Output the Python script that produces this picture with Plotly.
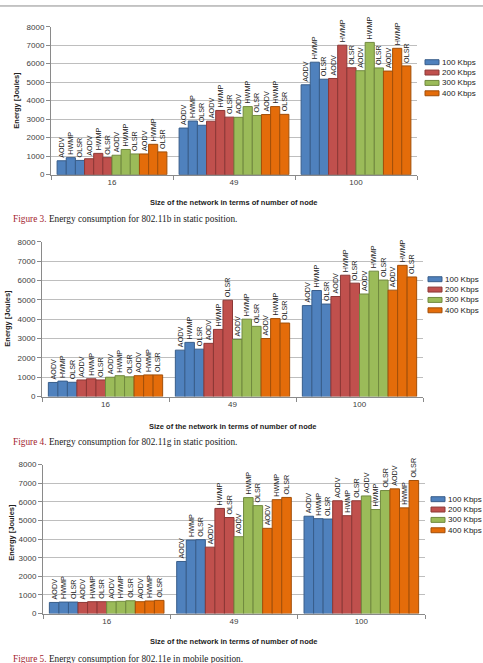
import plotly.graph_objects as go

# ---------------- data ----------------
nodes = ["16", "49", "100"]
protocols = ["AODV", "HWMP", "OLSR"]
rates = ["100 Kbps", "200 Kbps", "300 Kbps", "400 Kbps"]

# Figure 3: 802.11b static  -> rows = nodes (16, 49, 100), cols = protocols (AODV, HWMP, OLSR)
b_static_100 = [[750, 920, 770], [2520, 2900, 2670], [4860, 6080, 5160]]
b_static_200 = [[860, 1150, 920], [2890, 3470, 3110], [5200, 7000, 5780]]
b_static_300 = [[1050, 1360, 1120], [3100, 3680, 3200], [5620, 7150, 5770]]
b_static_400 = [[1120, 1640, 1230], [3250, 3680, 3260], [5600, 6830, 5880]]

# Figure 4: 802.11g static
g_static_100 = [[730, 800, 740], [2400, 2800, 2450], [4700, 5480, 4780]]
g_static_200 = [[860, 920, 860], [2750, 3470, 4980], [5170, 6270, 5860]]
g_static_300 = [[1000, 1080, 1020], [2950, 4000, 3630], [5300, 6480, 6020]]
g_static_400 = [[1080, 1120, 1120], [3000, 4030, 3800], [5500, 6780, 6180]]

# Figure 5: 802.11e mobile
e_mobile_100 = [[600, 620, 620], [2800, 3950, 3970], [5230, 5100, 5080]]
e_mobile_200 = [[600, 640, 640], [3570, 5650, 5160], [6060, 5260, 6060]]
e_mobile_300 = [[640, 660, 690], [4130, 6230, 5800], [6320, 5590, 6610]]
e_mobile_400 = [[640, 680, 710], [4580, 6120, 6240], [6700, 5680, 7150]]

charts = [
    [b_static_100, b_static_200, b_static_300, b_static_400],
    [g_static_100, g_static_200, g_static_300, g_static_400],
    [e_mobile_100, e_mobile_200, e_mobile_300, e_mobile_400],
]

captions_num = ["Figure 3.", "Figure 4.", "Figure 5."]
captions_txt = [
    "Energy consumption for 802.11b in static position.",
    "Energy consumption for 802.11g in static position.",
    "Energy consumption for 802.11e in mobile position.",
]
y_ticks = [0, 1000, 2000, 3000, 4000, 5000, 6000, 7000, 8000]
x_title = "Size of the network in terms of number of node"
y_title = "Energy [Joules]"

# ---------------- style ----------------
W, H = 483, 663
fill_colors = ["#4F81BD", "#C0504D", "#9BBB59", "#E46C0A"]
line_colors = ["#385D8A", "#8C3836", "#71893F", "#A24F09"]

# pixel layout of each chart: (x_left, x_right, y_top(8000), y_bottom(0))
boxes = [(51, 417, 23, 173), (42, 423, 241, 398), (43, 425, 467, 618)]
legend_x = [425, 428, 431]          # left edge of legend swatch
legend_y0 = [59, 279, 502]          # centre of first legend row
legend_dy = 10.5
ytitle_pos = [(17, 98), (8, 319), (12, 536)]
xtitle_y = [201, 428, 646]
caption_y = [218, 444, 664]

def px(x):
    return x / W

def py(y):
    return 1 - y / H

fig = go.Figure()
font_lab = "Liberation Sans, Arial, sans-serif"

for ci, chart in enumerate(charts):
    sfx = "" if ci == 0 else str(ci + 1)
    for ri, rate_vals in enumerate(chart):
        for pi, prot in enumerate(protocols):
            yv = [rate_vals[n][pi] for n in range(len(nodes))]
            fig.add_trace(go.Bar(
                x=nodes, y=yv,
                name=rates[ri],
                showlegend=False,
                xaxis="x" + sfx, yaxis="y" + sfx,
                marker=dict(color=fill_colors[ri],
                            line=dict(color=line_colors[ri], width=1)),
                text=[prot] * len(nodes),
                textposition="outside",
                textangle=-90,
                constraintext="none",
                cliponaxis=False,
                textfont=dict(size=7.2, color="#222222", family=font_lab),
                hoverinfo="skip",
            ))

layout = dict(
    width=W, height=H,
    margin=dict(l=0, r=0, t=0, b=0),
    paper_bgcolor="white", plot_bgcolor="white",
    barmode="group", bargap=0.1, bargroupgap=0,
    showlegend=False,
    font=dict(family=font_lab, color="#333333"),
)

annotations = []
shapes = [dict(type="line", xref="paper", yref="paper",
               x0=0, x1=1, y0=py(2), y1=py(2),
               line=dict(color="#8C8C8C", width=1))]

for ci in range(3):
    sfx = "" if ci == 0 else str(ci + 1)
    xl, xr, yt, yb = boxes[ci]
    layout["xaxis" + sfx] = dict(
        domain=[px(xl), px(xr)], anchor="y" + sfx,
        type="category", categoryorder="array", categoryarray=nodes,
        showline=True, linecolor="#8A8A8A", linewidth=1,
        ticks="outside", tickson="boundaries", ticklen=4, tickcolor="#8A8A8A",
        tickfont=dict(size=8, color="#404040"),
        showgrid=False, zeroline=False, fixedrange=True,
    )
    layout["yaxis" + sfx] = dict(
        domain=[py(yb), py(yt)], anchor="x" + sfx,
        range=[0, 8000], tickvals=y_ticks,
        showline=True, linecolor="#8A8A8A", linewidth=1,
        ticks="outside", ticklen=4, tickcolor="#8A8A8A",
        tickfont=dict(size=8, color="#404040"),
        showgrid=True, gridcolor="#BEBEBE", gridwidth=1,
        zeroline=False, fixedrange=True,
    )
    # legend (drawn as swatches + labels)
    for ri, rate in enumerate(rates):
        cy = legend_y0[ci] + ri * legend_dy
        lx = legend_x[ci]
        shapes.append(dict(
            type="rect", xref="paper", yref="paper",
            x0=px(lx), x1=px(lx + 14), y0=py(cy + 2.5), y1=py(cy - 2.5),
            fillcolor=fill_colors[ri], line=dict(color=line_colors[ri], width=1),
        ))
        annotations.append(dict(
            text=rate, x=px(lx + 14.5), y=py(cy),
            xref="paper", yref="paper", showarrow=False,
            font=dict(size=8, color="#222222", family=font_lab),
            xanchor="left", yanchor="middle",
        ))
    tx, ty = ytitle_pos[ci]
    annotations.append(dict(
        text="<b>" + y_title + "</b>", x=px(tx), y=py(ty),
        xref="paper", yref="paper", showarrow=False, textangle=-90,
        font=dict(size=7.5, color="#222222", family=font_lab),
        xanchor="center", yanchor="middle",
    ))
    annotations.append(dict(
        text="<b>" + x_title + "</b>", x=px((xl + xr) / 2), y=py(xtitle_y[ci]),
        xref="paper", yref="paper", showarrow=False,
        font=dict(size=7.5, color="#222222", family=font_lab),
        xanchor="center", yanchor="middle",
    ))
    annotations.append(dict(
        text='<span style="color:#A3242E">' + captions_num[ci] + "</span> " + captions_txt[ci],
        x=px(11), y=py(caption_y[ci]),
        xref="paper", yref="paper", showarrow=False,
        font=dict(size=9.3, color="#222222", family="Liberation Serif, Times New Roman, serif"),
        xanchor="left", yanchor="middle",
    ))

layout["annotations"] = annotations
layout["shapes"] = shapes

fig.update_layout(**layout)
fig.write_html("out.html")
